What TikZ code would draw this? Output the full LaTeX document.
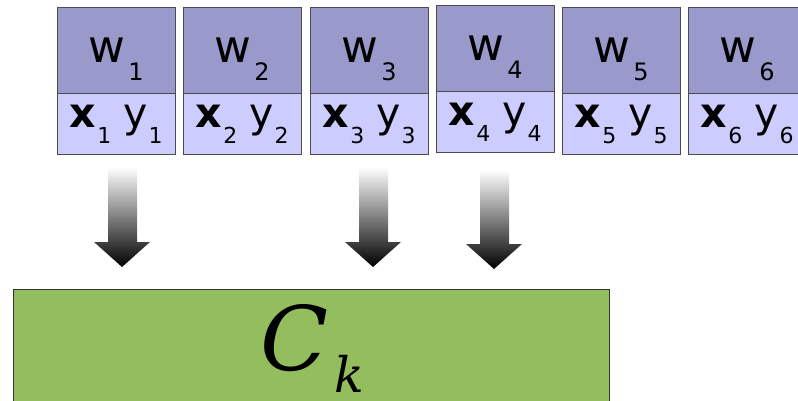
\documentclass[tikz,border=0pt]{standalone}
\usepackage{fontspec}
\setmainfont{DejaVu Sans}
\newfontfamily\ckfont{DejaVu Serif}
\usepackage{tikz}
\usetikzlibrary{calc}

\definecolor{wtop}{HTML}{9999CC}
\definecolor{xybot}{HTML}{CCCCFF}
\definecolor{clgreen}{HTML}{94BD5E}

% labels with low subscripts
\newcommand{\wlab}[1]{\fontsize{45}{45}\selectfont w\hspace{3pt}\lower18pt\hbox{\fontsize{24}{24}\selectfont #1}}
\newcommand{\xylab}[1]{\fontsize{41}{41}\selectfont\textbf{x}\hspace{1pt}\lower16pt\hbox{\fontsize{22}{22}\selectfont #1}\hspace{12pt}y\hspace{1pt}\lower16pt\hbox{\fontsize{22}{22}\selectfont #1}}

\tikzset{
  wbox/.style={draw=black!70, fill=wtop, anchor=north west, minimum width=118pt,
    minimum height=86pt, inner sep=0pt, text depth=0pt},
  xybox/.style={draw=black!70, fill=xybot, anchor=north west, minimum width=118pt,
    minimum height=61pt, inner sep=0pt},
  fatarrow/.style={top color=white, bottom color=black, draw=none}
}

\begin{document}
\begin{tikzpicture}[x=1pt, y=-1pt]
  \useasboundingbox (0,0) rectangle (798,401);

  % Weight boxes
  \node[wbox] (w1) at (57,7) {\wlab{1}};
  \node[xybox] (xy1) at (w1.south west) {\xylab{1}};
  \node[wbox] (w2) at (183,7) {\wlab{2}};
  \node[xybox] (xy2) at (w2.south west) {\xylab{2}};
  \node[wbox] (w3) at (310,7) {\wlab{3}};
  \node[xybox] (xy3) at (w3.south west) {\xylab{3}};
  \node[wbox] (w4) at (436,5) {\wlab{4}};
  \node[xybox] (xy4) at (w4.south west) {\xylab{4}};
  \node[wbox] (w5) at (562,7) {\wlab{5}};
  \node[xybox] (xy5) at (w5.south west) {\xylab{5}};
  \node[wbox] (w6) at (688,7) {\wlab{6}};
  \node[xybox] (xy6) at (w6.south west) {\xylab{6}};

  % Cluster
  \node[draw=black!80, fill=clgreen, anchor=north west, minimum width=596pt,
    minimum height=130pt, inner sep=0pt] (ck) at (13,289) {};
  \node[anchor=base west, inner sep=0pt] at (260,370) {\ckfont\itshape\fontsize{89}{89}\selectfont C\hspace{6pt}\lower22pt\hbox{\fontsize{49}{49}\selectfont k}};

  % Shaded arrows
  \shade[fatarrow] (108,167) -- (137,167) -- (137,242) -- (150,242) -- (122,267)
    -- (94,242) -- (108,242) -- cycle;
  \shade[fatarrow] (359,167) -- (388,167) -- (388,242) -- (401,242) -- (373,267)
    -- (345,242) -- (359,242) -- cycle;
  \shade[fatarrow] (480,170) -- (509,170) -- (509,244) -- (522,244) -- (494,269)
    -- (466,244) -- (480,244) -- cycle;

\end{tikzpicture}
\end{document}
